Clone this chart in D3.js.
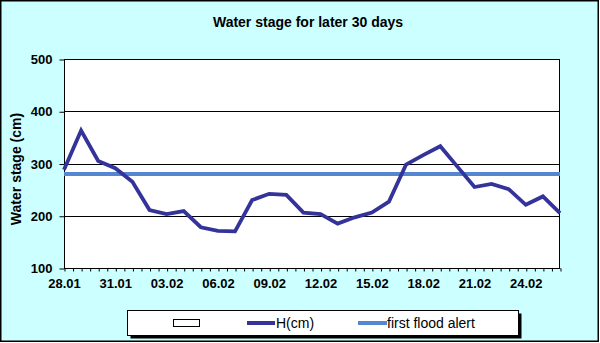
<!DOCTYPE html>
<html>
<head>
<meta charset="utf-8">
<script src="https://cdn.jsdelivr.net/npm/d3@7"></script>
<style>
html,body{margin:0;padding:0;background:#fff;}
svg{display:block;font-family:Arial,"Liberation Sans",sans-serif;}
</style>
</head>
<body>
<svg id="chart" width="600" height="343"></svg>
<script>
const categories = ["28.01","29.01","30.01","31.01","01.02","02.02","03.02","04.02","05.02","06.02",
  "07.02","08.02","09.02","10.02","11.02","12.02","13.02","14.02","15.02","16.02",
  "17.02","18.02","19.02","20.02","21.02","22.02","23.02","24.02","25.02","26.02"];
const waterStage = [288,363,305,291,265,211,203,209,178,171,
  170,230,242,240,206,203,185,197,206,227,
  298,316,333,294,255,261,251,221,237,205];
const floodAlert = [280];
const yTicks = [100,200,300,400,500];
const xLabels = ["28.01","31.01","03.02","06.02","09.02","12.02","15.02","18.02","21.02","24.02"];
const title = "Water stage for later 30 days";
const yTitle = "Water stage (cm)";
const legendLabels = ["H(cm)","first flood alert"];

const svg = d3.select("#chart");
const L = 64, R = 560, T = 59, B = 268;

svg.append("rect").attr("x",0.75).attr("y",0.75).attr("width",597.5).attr("height",340.5)
  .attr("fill","#CCFFFF").attr("stroke","#000").attr("stroke-width",1.5);

const x = d3.scalePoint().domain(categories).range([L,R]);
const xi = d3.scaleLinear().domain([0,categories.length-1]).range([L,R]);
const y = d3.scaleLinear().domain([100,500]).range([B,T]);

svg.append("rect").attr("x",L).attr("y",T).attr("width",R-L).attr("height",B-T).attr("fill","#fff");

// gridlines
svg.append("g").selectAll("line").data(yTicks.slice(1,-1)).join("line")
  .attr("x1",L).attr("x2",R).attr("y1",d=>Math.round(y(d))+0.5).attr("y2",d=>Math.round(y(d))+0.5)
  .attr("stroke","#000").attr("stroke-width",1);

// plot border
svg.append("rect").attr("x",L+0.5).attr("y",T+0.5).attr("width",R-L-1).attr("height",B-T)
  .attr("fill","none").attr("stroke","#000").attr("stroke-width",1);

// y axis
const yAxis = svg.append("g").attr("transform",`translate(${L+0.5},0.5)`)
  .call(d3.axisLeft(y).tickValues(yTicks).tickSize(5).tickPadding(7).tickFormat(d3.format("d")));
yAxis.select(".domain").remove();
yAxis.selectAll("line").attr("stroke","#000");
yAxis.selectAll("text").attr("font-size",13).attr("font-weight","bold").attr("fill","#000")
  .attr("font-family","Arial,'Liberation Sans',sans-serif");

// x minor ticks (half-day)
const xt = svg.append("g").attr("transform",`translate(0.5,${B+0.5})`)
  .call(d3.axisBottom(xi).tickValues(d3.range(0,categories.length-0.5,0.5)).tickSize(3).tickFormat(""));
xt.select(".domain").attr("stroke","#000").attr("d",`M${L},0H${R}`);
xt.selectAll("line").attr("stroke","#000");

// x labels
const xa = svg.append("g").attr("transform",`translate(0,${B})`)
  .call(d3.axisBottom(x).tickValues(xLabels).tickSize(0).tickPadding(11));
xa.select(".domain").remove();
xa.selectAll("text").attr("font-size",13).attr("font-weight","bold").attr("fill","#000")
  .attr("font-family","Arial,'Liberation Sans',sans-serif");

// alert line
svg.append("line").attr("x1",L).attr("x2",R).attr("y1",y(floodAlert[0])).attr("y2",y(floodAlert[0]))
  .attr("stroke","#5587D0").attr("stroke-width",4);

// series line
svg.append("path").datum(waterStage)
  .attr("d",d3.line().x((d,i)=>x(categories[i])).y(d=>y(d)))
  .attr("fill","none").attr("stroke","#333399").attr("stroke-width",3.8).attr("stroke-linejoin","miter");

// title
svg.append("text").attr("x",308).attr("y",27).attr("text-anchor","middle")
  .attr("font-size",14).attr("font-weight","bold").text(title);

svg.append("text").attr("transform","translate(21,169) rotate(-90)").attr("text-anchor","middle")
  .attr("font-size",14).attr("font-weight","bold").text(yTitle);

// legend
svg.append("rect").attr("x",130.5).attr("y",313.5).attr("width",391).attr("height",25).attr("fill","#000");
svg.append("rect").attr("x",127.5).attr("y",310.5).attr("width",391).attr("height",25)
  .attr("fill","#fff").attr("stroke","#000").attr("stroke-width",1);
svg.append("rect").attr("x",173.5).attr("y",319.5).attr("width",26).attr("height",7)
  .attr("fill","#fff").attr("stroke","#000").attr("stroke-width",1);
svg.append("line").attr("x1",247).attr("x2",275).attr("y1",323).attr("y2",323)
  .attr("stroke","#333399").attr("stroke-width",4);
svg.append("text").attr("x",276).attr("y",328).attr("font-size",14).text(legendLabels[0]);
svg.append("line").attr("x1",358).attr("x2",387).attr("y1",323).attr("y2",323)
  .attr("stroke","#5587D0").attr("stroke-width",4);
svg.append("text").attr("x",387).attr("y",328).attr("font-size",14).text(legendLabels[1]);
</script>
</body>
</html>
